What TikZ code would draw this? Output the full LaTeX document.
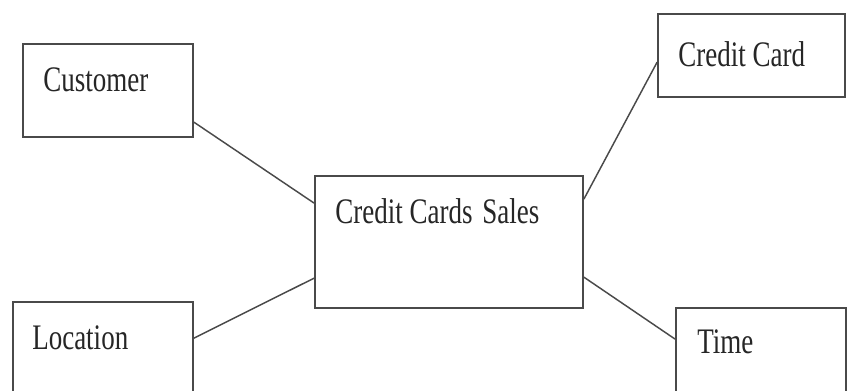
\documentclass[tikz,border=0pt]{standalone}
\usepackage{fontspec}
\setmainfont{Liberation Serif}
\usetikzlibrary{calc}
\definecolor{edgecol}{HTML}{4A4A4A}
\definecolor{txtcol}{HTML}{262626}
\tikzset{
  entbox/.style={draw=edgecol, line width=1.3pt, rectangle, inner sep=0pt, fill=white},
  lbl/.style={anchor=base west, inner sep=0pt, text=txtcol, font=\fontsize{20.25}{24}\selectfont},
  conn/.style={draw=edgecol, line width=1.1pt}
}
\newcommand{\stretchtxt}[1]{\scalebox{1}[1.33]{#1}}
\begin{document}
\begin{tikzpicture}[x=0.75pt, y=-0.75pt]
\useasboundingbox (0,0) rectangle (847,390);
\clip (0,0) rectangle (847,390);
\fill[white] (0,0) rectangle (847,390);

% boxes
\node[entbox, minimum width=127.5pt, minimum height=69.75pt] (cust) at (108,90.5) {};
\node[entbox, minimum width=140.25pt, minimum height=62.25pt] (card) at (751.5,55.5) {};
\node[entbox, minimum width=201pt, minimum height=99pt] (sales) at (449,242) {};
\node[entbox, minimum width=135pt, minimum height=73.5pt] (loc) at (103,351) {};
\node[entbox, minimum width=127.5pt, minimum height=69pt] (time) at (761,354) {};

% labels
\node[lbl] (custT) at (43,91) {\stretchtxt{Customer}};
\node[lbl] (cardT) at (678,66) {\stretchtxt{Credit Card}};
\node[lbl] (salesT) at (335,223) {\stretchtxt{Credit Cards\hspace{0.37em}Sales}};
\node[lbl] (locT) at (32,349) {\stretchtxt{Location}};
\node[lbl] (timeT) at (697,353) {\stretchtxt{Time}};

% connectors
\draw[conn] ($(cust.north east)+(0,79)$) -- ($(sales.north west)+(0,28)$);
\draw[conn] ($(card.north west)+(0,49)$) -- ($(sales.north east)+(0,24)$);
\draw[conn] ($(loc.north east)+(0,37)$) -- ($(sales.north west)+(0,103)$);
\draw[conn] ($(sales.north east)+(0,102)$) -- ($(time.north west)+(0,32)$);
\end{tikzpicture}
\end{document}
